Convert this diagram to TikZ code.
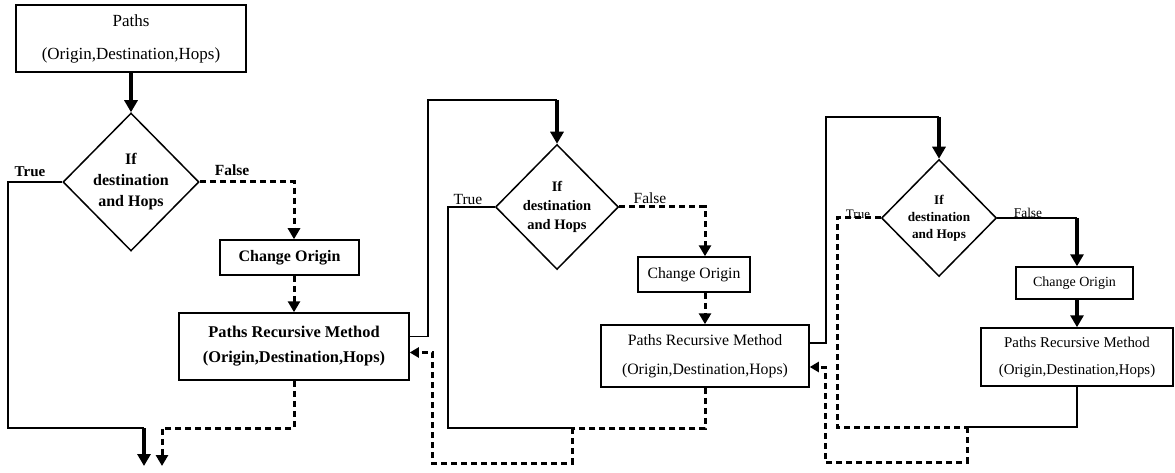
\documentclass[tikz,border=0pt]{standalone}
\usepackage{fontspec}
\setmainfont{Liberation Serif}
\usetikzlibrary{arrows.meta, shapes.geometric}

\tikzset{
  box/.style={draw, line width=1.5pt, rectangle, align=center, inner sep=0pt},
  decision/.style={draw, line width=1.5pt, diamond, align=center, inner sep=0pt},
  flow/.style={line width=1.5pt},
  boldflow/.style={line width=3.6pt, -{Triangle[width=13pt,length=12pt]}},
  dashflow/.style={line width=3pt, dash pattern=on 6pt off 4pt},
  dasharrow/.style={dashflow, -{Triangle[width=12pt,length=11pt]}},
  backarrow/.style={dashflow, -{Triangle[width=10pt,length=9pt]}},
}

\begin{document}
\begin{tikzpicture}[x=1pt, y=-1pt]

  \useasboundingbox (0,0) rectangle (1175,473);

  % --- First call ---
  \node[box, minimum width=230pt, minimum height=67pt, font=\fontsize{17}{33}\selectfont] (paths) at (131,38.5)
    {Paths\\(Origin,Destination,Hops)};
  \node[decision, minimum width=136pt, minimum height=138pt, font=\fontsize{16}{21}\selectfont\bfseries] (dec1) at (131,182)
    {If\\destination\\and Hops};
  \node[box, minimum width=139pt, minimum height=35pt, font=\fontsize{16}{19}\selectfont\bfseries] (change1) at (289.5,257.5)
    {Change Origin};
  \node[box, minimum width=230pt, minimum height=67pt, font=\fontsize{16.4}{25}\selectfont\bfseries] (rec1) at (294,346.5)
    {Paths Recursive Method\\(Origin,Destination,Hops)};

  \node[font=\fontsize{15}{18}\selectfont\bfseries] (true1) at (30,172) {True};
  \node[font=\fontsize{15.5}{18}\selectfont\bfseries] (false1) at (232,170) {False};

  \coordinate (bend1) at (8,428);
  \coordinate (join1) at (144,428);
  \coordinate (exit1) at (144,466);
  \coordinate (exit1b) at (162,466);

  \draw[boldflow] (paths.south) -- (dec1.north);
  \draw[flow] (dec1.west) -| (bend1) -- (join1);
  \draw[boldflow] (join1) -- (exit1);
  \draw[dasharrow] (dec1.east) -| (change1.north -| rec1.north);
  \draw[dasharrow] (change1.south -| rec1.north) -- (rec1.north);
  \draw[dasharrow] (rec1.south) |- (exit1b |- join1) -- (exit1b);

  % --- Second call ---
  \node[decision, minimum width=123pt, minimum height=125pt, font=\fontsize{14.5}{19}\selectfont\bfseries] (dec2) at (557,207)
    {If\\destination\\and Hops};
  \node[box, minimum width=112pt, minimum height=35pt, font=\fontsize{15.7}{19}\selectfont] (change2) at (694,274.5)
    {Change Origin};
  \node[box, minimum width=208pt, minimum height=62pt, font=\fontsize{15.8}{29}\selectfont] (rec2) at (705,356)
    {Paths Recursive Method\\(Origin,Destination,Hops)};

  \node[font=\fontsize{15.5}{18}\selectfont] (true2) at (468,200) {True};
  \node[font=\fontsize{15.5}{18}\selectfont] (false2) at (650,198) {False};

  \coordinate (up1) at (428,100);
  \coordinate (bend2) at (448,428);
  \coordinate (join2) at (572,428);
  \coordinate (back1) at (432,463);

  \draw[flow] ([yshift=10pt]rec1.east) -| (up1) -- (dec2.north |- up1);
  \draw[boldflow] (dec2.north |- up1) -- (dec2.north);
  \draw[flow] (dec2.west) -| (bend2) -- (join2);
  \draw[dashflow] (rec2.south) |- (join2);
  \draw[backarrow] (join2) |- (back1) |- ([yshift=-6pt]rec1.east);
  \draw[dasharrow] (dec2.east) -| (change2.north -| rec2.north);
  \draw[dasharrow] (change2.south -| rec2.north) -- (rec2.north);

  % --- Third call ---
  \node[decision, minimum width=115pt, minimum height=117pt, font=\fontsize{13.2}{17}\selectfont\bfseries] (dec3) at (939,218)
    {If\\destination\\and Hops};
  \node[box, minimum width=117pt, minimum height=32pt, font=\fontsize{14}{17}\selectfont] (change3) at (1074.5,283)
    {Change Origin};
  \node[box, minimum width=192pt, minimum height=58pt, font=\fontsize{14.9}{27}\selectfont] (rec3) at (1077,357)
    {Paths Recursive Method\\(Origin,Destination,Hops)};

  \node[font=\fontsize{13}{16}\selectfont] (true3) at (858,214) {True};
  \node[font=\fontsize{13.4}{16}\selectfont] (false3) at (1028,213) {False};

  \coordinate (up2) at (826,117);
  \coordinate (bend3) at (837,427);
  \coordinate (join3) at (967,427);
  \coordinate (back2) at (825,462);

  \draw[flow] ([yshift=13pt]rec2.east) -| (up2) -- (dec3.north |- up2);
  \draw[boldflow] (dec3.north |- up2) -- (dec3.north);
  \draw[dashflow] (dec3.west) -| (bend3) -- (join3);
  \draw[flow] (rec3.south) |- (join3);
  \draw[backarrow] (join3) |- (back2) |- ([yshift=-11pt]rec2.east);
  \draw[flow] (dec3.east) -- (dec3.east -| rec3.north);
  \draw[boldflow] (dec3.east -| rec3.north) -- (change3.north -| rec3.north);
  \draw[boldflow] (change3.south -| rec3.north) -- (rec3.north);

\end{tikzpicture}
\end{document}
